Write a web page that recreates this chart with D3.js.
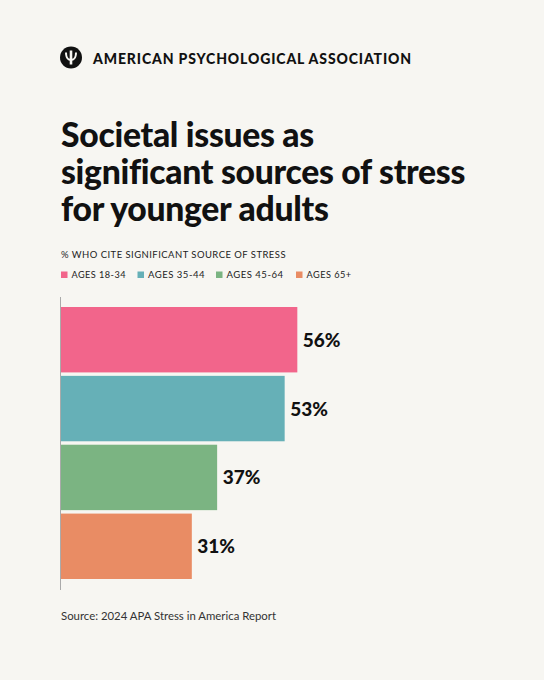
<!DOCTYPE html>
<html>
<head>
<meta charset="utf-8">
<script src="https://cdn.jsdelivr.net/npm/d3@7"></script>
<style>
html,body{margin:0;padding:0;background:#f7f6f2;}
svg{display:block;}
</style>
</head>
<body>
<svg id="chart" width="544" height="680"></svg>
<script>
const categories = ["AGES 18-34", "AGES 35-44", "AGES 45-64", "AGES 65+"];
const values = [56, 53, 37, 31];
const colors = ["#f2658b", "#66b0b7", "#7bb482", "#e98c64"];
const titleLines = ["Societal issues as", "significant sources of stress", "for younger adults"];

const svg = d3.select("#chart");
svg.append("rect").attr("width", 544).attr("height", 680).attr("fill", "#f7f6f2");

// helper to fit text to a width
function fit(sel, w) {
  const node = sel.node();
  const cur = node.getComputedTextLength();
  const fs = parseFloat(sel.attr("font-size"));
  sel.attr("font-size", fs * w / cur);
  return sel;
}

// Header logo
const logo = svg.append("g").attr("transform", "translate(71,57.5)");
logo.append("circle").attr("r", 11).attr("fill", "#111");
logo.append("path")
  .attr("d", "M-6,-5 C-6,1 -3,3 -1.3,3.2 L-1.3,7 L1.3,7 L1.3,3.2 C3,3 6,1 6,-5 L4,-5 C4,-1 3,1 1.3,1.3 L1.3,-7 L-1.3,-7 L-1.3,1.3 C-3,1 -4,-1 -4,-5 Z")
  .attr("fill", "#f7f6f2");

const hdr = svg.append("text")
  .attr("x", 93).attr("y", 64)
  .attr("font-family", "Lato, sans-serif").attr("font-weight", 900)
  .attr("font-size", 14.5).attr("fill", "#111")
  .attr("letter-spacing", 0.9)
  .text("AMERICAN PSYCHOLOGICAL ASSOCIATION");
hdr.attr("textLength", 319).attr("lengthAdjust", "spacingAndGlyphs");

// Title
const titleBase = [146.5, 184, 220.5];
const tl = svg.append("text")
  .attr("x", 61).attr("y", titleBase[1])
  .attr("font-family", "Lato, sans-serif").attr("font-weight", 900)
  .attr("font-size", 33).attr("fill", "#111")
  .attr("letter-spacing", -0.3)
  .text(titleLines[1]);
fit(tl, 404);
const tfs = tl.attr("font-size");
[0, 2].forEach(i => {
  svg.append("text")
    .attr("x", 61).attr("y", titleBase[i])
    .attr("font-family", "Lato, sans-serif").attr("font-weight", 900)
    .attr("font-size", tfs).attr("fill", "#111")
    .attr("letter-spacing", -0.3)
    .text(titleLines[i]);
});

// Subtitle
svg.append("text")
  .attr("x", 61).attr("y", 258)
  .attr("font-family", "Lato, sans-serif").attr("font-weight", 400)
  .attr("font-size", 10).attr("fill", "#222")
  .attr("letter-spacing", 0.5)
  .attr("textLength", 225).attr("lengthAdjust", "spacingAndGlyphs")
  .text("% WHO CITE SIGNIFICANT SOURCE OF STRESS");

// Legend
const legX = [61, 137.5, 216, 296];
const legW = [54.5, 57, 57, 45];
const leg = svg.append("g");
categories.forEach((c, i) => {
  leg.append("rect").attr("x", legX[i]).attr("y", 271.5).attr("width", 6.5).attr("height", 6.5).attr("fill", colors[i]);
  leg.append("text")
    .attr("x", legX[i] + 10.5).attr("y", 278)
    .attr("font-family", "Lato, sans-serif").attr("font-size", 10)
    .attr("fill", "#222").attr("letter-spacing", 0.5)
    .attr("textLength", legW[i]).attr("lengthAdjust", "spacingAndGlyphs")
    .text(c);
});

// Bars
const x = d3.scaleLinear().domain([0, 100]).range([61, 483]);
const y = d3.scaleBand().domain(categories).range([307, 579]).paddingInner(0.05);

svg.append("line")
  .attr("x1", 60.5).attr("x2", 60.5).attr("y1", 297).attr("y2", 590)
  .attr("stroke", "#aaa").attr("stroke-width", 1);

svg.selectAll("rect.bar").data(values).enter().append("rect")
  .attr("class", "bar")
  .attr("x", x(0))
  .attr("y", (d, i) => y(categories[i]))
  .attr("width", d => x(d) - x(0))
  .attr("height", y.bandwidth())
  .attr("fill", (d, i) => colors[i]);

svg.selectAll("text.lbl").data(values).enter().append("text")
  .attr("class", "lbl")
  .attr("x", d => x(d) + 5.5)
  .attr("y", (d, i) => y(categories[i]) + y.bandwidth() / 2 + 7)
  .attr("font-family", "Lato, sans-serif").attr("font-weight", 900)
  .attr("font-size", 19).attr("fill", "#111")
  .text(d => d + "%");

// Source
svg.append("text")
  .attr("x", 61).attr("y", 620)
  .attr("font-family", "Lato, sans-serif").attr("font-size", 12)
  .attr("fill", "#333")
  .attr("textLength", 215).attr("lengthAdjust", "spacingAndGlyphs")
  .text("Source: 2024 APA Stress in America Report");
</script>
</body>
</html>
